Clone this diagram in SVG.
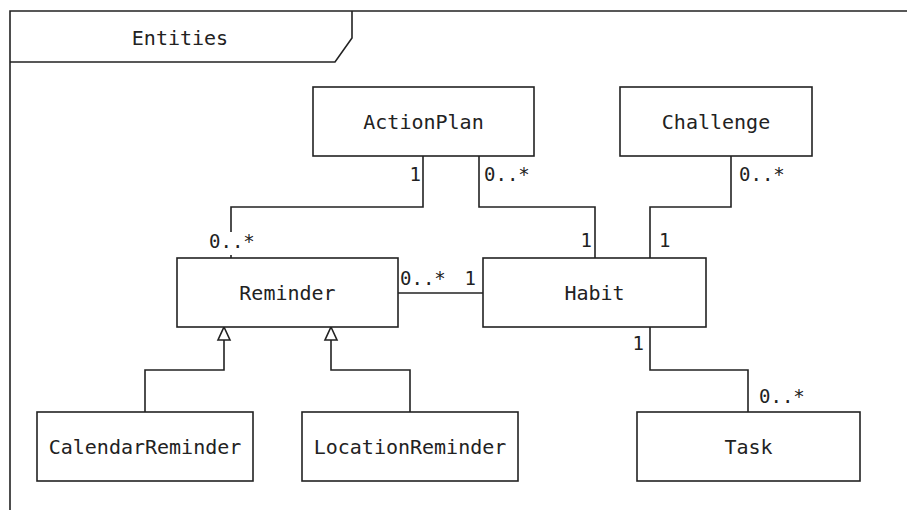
<svg xmlns="http://www.w3.org/2000/svg" width="907" height="510" viewBox="0 0 907 510">
<style>
  .box { fill: #ffffff; stroke: #222222; stroke-width: 1.6; }
  .frame { fill: none; stroke: #222222; stroke-width: 1.6; }
  .name { font-family: "DejaVu Sans Mono", "Liberation Mono", monospace; font-size: 20px; fill: #222222; text-anchor: middle; }
  .mult { font-family: "DejaVu Sans Mono", "Liberation Mono", monospace; font-size: 19px; fill: #222222; }
  .conn { fill: none; stroke: #222222; stroke-width: 1.6; }
  .gen { fill: #ffffff; stroke: #222222; stroke-width: 1.6; stroke-linejoin: miter; }
</style>
<rect x="0" y="0" width="907" height="510" fill="#ffffff"/>
<g id="frame">
  <path class="frame" d="M10,510 L10,11 L907,11"/>
  <path class="frame" d="M10,62 L335,62 L352,38 L352,11"/>
  <text class="name" x="180" y="45">Entities</text>
</g>
<g id="connectors">
  <path class="conn" d="M423,156 L423,207 L231,207 L231,258"/>
  <path class="conn" d="M479,156 L479,207 L595,207 L595,258"/>
  <path class="conn" d="M731,156 L731,207 L650,207 L650,258"/>
  <path class="conn" d="M398,293 L483,293"/>
  <path class="conn" d="M650,327 L650,370 L748,370 L748,412"/>
  <path class="conn" d="M145,412 L145,370 L224,370 L224,340"/>
  <path class="gen" d="M224,327 L230,340 L218,340 Z"/>
  <path class="conn" d="M410,412 L410,370 L331,370 L331,340"/>
  <path class="gen" d="M331,327 L337,340 L325,340 Z"/>
  <text class="mult" x="421" y="181" text-anchor="end">1</text>
  <text class="mult" x="484" y="181">0..*</text>
  <rect x="208" y="232" width="48" height="23" fill="#ffffff"/>
  <text class="mult" x="209" y="248">0..*</text>
  <text class="mult" x="592" y="247" text-anchor="end">1</text>
  <text class="mult" x="659" y="247">1</text>
  <text class="mult" x="739" y="181">0..*</text>
  <text class="mult" x="400" y="285">0..*</text>
  <text class="mult" x="476" y="285" text-anchor="end">1</text>
  <text class="mult" x="644" y="350" text-anchor="end">1</text>
  <text class="mult" x="759" y="403">0..*</text>
</g>
<g id="ActionPlan">
  <rect class="box" x="313" y="87" width="221" height="69"/>
  <text class="name" x="423.5" y="128.5">ActionPlan</text>
</g>
<g id="Challenge">
  <rect class="box" x="620" y="87" width="192" height="69"/>
  <text class="name" x="716" y="128.5">Challenge</text>
</g>
<g id="Reminder">
  <rect class="box" x="177" y="258" width="221" height="69"/>
  <text class="name" x="287.5" y="300">Reminder</text>
</g>
<g id="Habit">
  <rect class="box" x="483" y="258" width="223" height="69"/>
  <text class="name" x="594.5" y="300">Habit</text>
</g>
<g id="CalendarReminder">
  <rect class="box" x="37" y="412" width="216" height="69"/>
  <text class="name" x="145" y="453.5">CalendarReminder</text>
</g>
<g id="LocationReminder">
  <rect class="box" x="302" y="412" width="216" height="69"/>
  <text class="name" x="410" y="453.5">LocationReminder</text>
</g>
<g id="Task">
  <rect class="box" x="637" y="412" width="223" height="69"/>
  <text class="name" x="748.5" y="453.5">Task</text>
</g>
</svg>
